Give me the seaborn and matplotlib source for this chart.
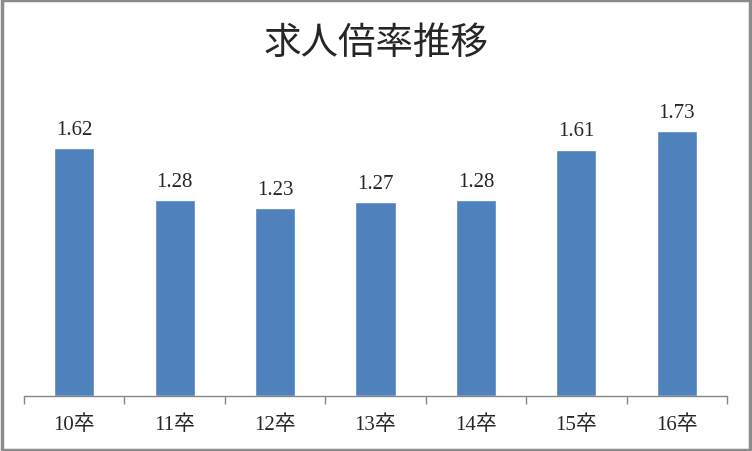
import matplotlib
matplotlib.use("Agg")
import matplotlib.pyplot as plt
import seaborn as sns
import pandas as pd
from matplotlib.patches import Rectangle

categories = ["10卒", "11卒", "12卒", "13卒", "14卒", "15卒", "16卒"]
values = [1.62, 1.28, 1.23, 1.27, 1.28, 1.61, 1.73]
title = "求人倍率推移"

sns.set_style("white")
plt.rcParams['font.family'] = ['Liberation Serif', 'Noto Sans CJK JP']

df = pd.DataFrame({"year": categories, "ratio": values})

fig = plt.figure(figsize=(7.52, 4.52), dpi=100)
ax = fig.add_axes([24 / 752, 1 - 397 / 452, 703 / 752, 306 / 452])

sns.barplot(data=df, x="year", y="ratio", color="#4F81BD", saturation=1,
            width=0.4, ax=ax)

# value labels above bars
for i, v in enumerate(values):
    ax.text(i, v + 0.06, f"{v:.2f}", ha="center", va="bottom", fontsize=15)

ax.set_xlim(-0.5, len(categories) - 0.5)
ax.set_ylim(0, 2.0)
ax.set_yticks([])
ax.set_xlabel("")
ax.set_ylabel("")

for s in ["left", "right", "top"]:
    ax.spines[s].set_visible(False)
ax.spines["bottom"].set_color("#868686")
ax.spines["bottom"].set_linewidth(1)

# category labels, tick marks between categories
ax.set_xticks(range(len(categories)))
ax.set_xticklabels(categories, fontsize=15)
ax.tick_params(axis="x", which="major", length=0, pad=13)
ax.set_xticks([i - 0.5 for i in range(len(categories) + 1)], minor=True)
ax.tick_params(axis="x", which="minor", length=6, color="#868686", width=1,
               direction="out", bottom=True)

fig.text(0.5, 1 - 43 / 452, title, ha="center", va="center", fontsize=27,
         family=["Noto Sans CJK JP"])

# chart frame
fig.patches.append(Rectangle((0.002, 0.003), 0.995, 0.994, transform=fig.transFigure,
                             fill=False, edgecolor="#8c8c8c", linewidth=2.5))

fig.savefig("out.png", dpi=100)
